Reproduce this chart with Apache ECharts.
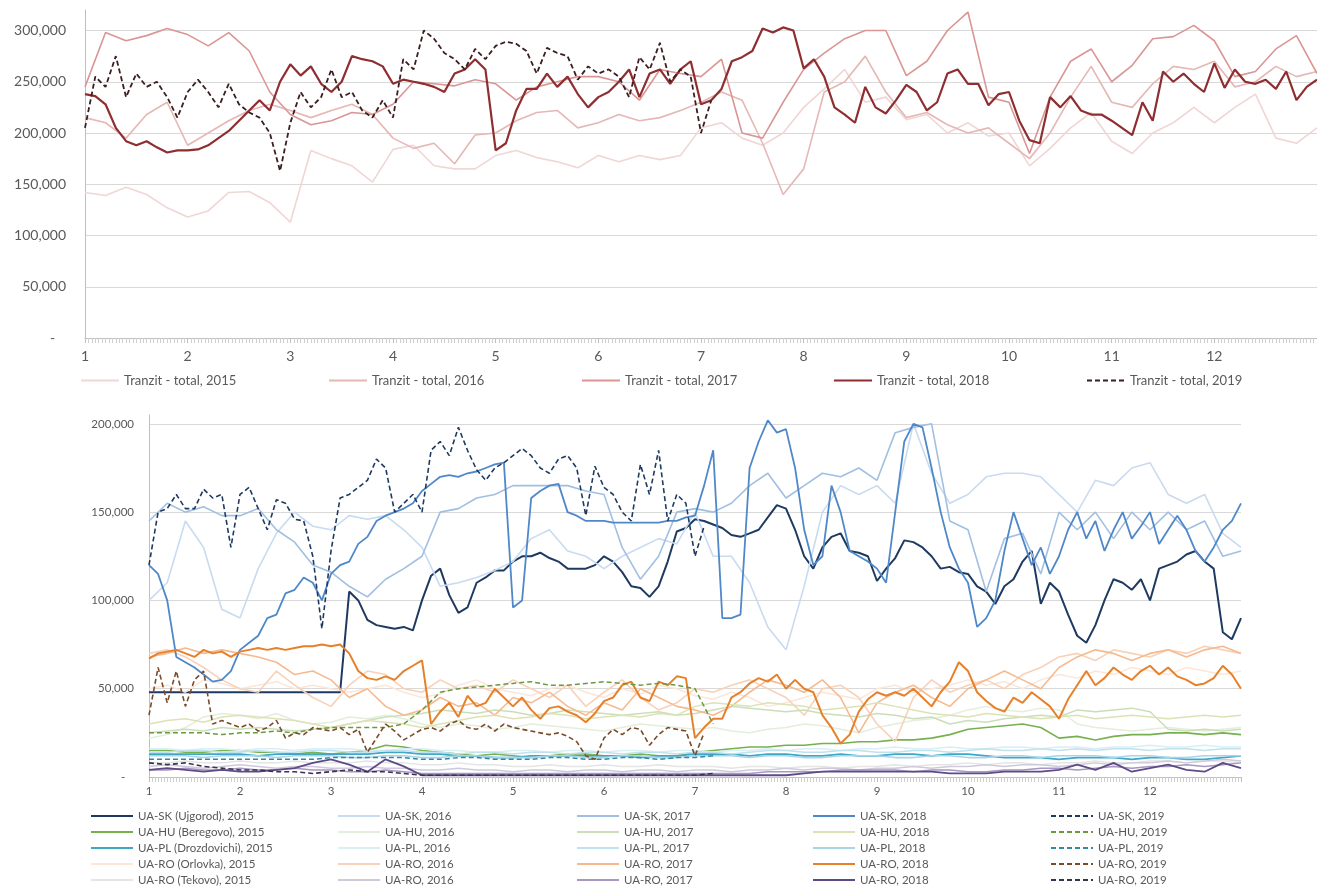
<!DOCTYPE html>
<html>
<head>
<meta charset="utf-8">
<title>Tranzit traffic by border crossing</title>
<script src="https://cdn.jsdelivr.net/npm/echarts/dist/echarts.min.js"></script>
<style>
  html, body { margin: 0; padding: 0; background: #ffffff; }
  #chart { width: 1317px; height: 893px; }
</style>
</head>
<body>
<div id="chart"></div>
<script>
// Month tick labels on both x axes
const MONTHS = [1, 2, 3, 4, 5, 6, 7, 8, 9, 10, 11, 12];
// Samples start at month 1; busy series are sampled every tenth of a month,
// the quieter ones every fifth
const X_START = 1;
const STEP_FINE = 0.1;
const STEP_COARSE = 0.2;

// ---- Upper panel: Tranzit - total (thousands) ----
const tranzit2015 = [142,139,147,140,127,118,124,142,143,132,113, 183,175,168,152,184,188,168,165,165,178, 183,176,172,166,178,172,178,174,178,205, 210,195,188,200,225,243,262,230,235,213, 218,200,210,197,200,168,185,205,220,192, 180,200,210,225,210,225,238,195,190,205];
const tranzit2016 = [215,210,195,218,230,188,200,212,222,228,222, 215,222,228,218,195,185,190,170,198,200, 212,220,222,205,210,218,212,215,222,230, 240,232,190,140,165,240,250,275,240,215, 220,208,200,205,190,175,200,235,265,230, 225,248,265,262,270,245,250,265,255,260];
const tranzit2017 = [245,298,290,295,302,296,285,298,280,240,218, 208,212,220,218,228,250,248,246,252,248, 232,245,250,255,255,250,232,262,258,255, 272,200,195,230,262,278,292,300,300,256, 270,300,318,235,230,180,235,270,282,250, 266,292,294,305,290,255,260,282,295,258];
const tranzit2018 = [
  238,236,228,205,192,188,192,186,181,183,
  183,184,188,195,202,212,222,232,222,250,
  267,256,265,248,240,250,275,272,270,265,
  248,252,250,248,245,240,258,262,272,262,
  183,190,222,243,243,258,245,255,238,225,
  235,240,250,262,235,258,262,248,262,270,
  228,232,243,270,274,280,302,298,303,300,
  263,272,255,225,218,210,245,225,219,232,
  247,240,222,230,258,262,248,248,227,238,
  240,212,193,190,235,225,236,222,218,218,
  212,205,198,230,212,260,250,258,248,240,
  268,244,262,250,248,252,243,260,232,245,
  252];
const tranzit2019 = [
  205,255,245,275,235,258,245,250,235,215,
  240,252,240,225,248,228,220,215,200,163,
  210,240,225,235,262,235,240,222,215,232,
  215,272,262,300,292,278,272,262,282,272,
  285,289,287,280,258,283,278,275,252,265,
  258,262,255,235,274,262,288,250,262,255,
  200,232];

// ---- Lower panel: border crossings (thousands) ----
const sk2015 = [
  48,48,48,48,48,48,48,48,48,48,
  48,48,48,48,48,48,48,48,48,48,
  48,48,105,100,89,86,85,84,85,83,
  100,114,118,103,93,96,110,113,117,117,
  122,125,125,127,124,122,118,118,118,120,
  125,122,116,108,107,102,108,122,139,141,
  146,145,143,141,137,136,138,140,147,154,
  152,140,125,118,130,136,138,128,127,125,
  111,118,124,134,133,130,125,118,119,116,
  115,108,105,98,108,112,122,128,98,110,
  105,92,80,76,86,100,112,110,106,112,
  100,118,120,122,126,128,122,118,82,78,
  90];
const sk2016 = [100,110,145,130,95,90,118,138,150,142,140, 148,146,148,140,130,108,110,113,117,122, 135,140,128,125,118,125,130,135,132,150, 125,125,110,85,72,108,150,165,160,165, 155,200,172,155,160,170,172,172,170,160, 150,168,165,175,178,160,155,160,138,130];
const sk2017 = [145,155,150,153,148,148,152,140,133,120,116, 108,102,112,118,125,150,152,158,160,165, 165,165,165,162,160,130,112,125,150,152, 150,155,165,172,158,165,172,170,175,168, 195,198,200,145,140,105,135,138,115,150, 140,150,135,150,140,150,140,145,125,128];
const sk2018 = [
  120,115,100,68,65,62,58,54,55,60,
  72,76,80,90,92,104,106,113,110,100,
  115,120,122,132,136,145,148,150,152,155,
  162,166,170,171,170,172,173,175,177,178,
  96,100,158,162,165,166,150,148,145,145,
  145,144,144,144,144,144,144,145,145,147,
  148,165,185,90,90,92,175,190,202,195,
  197,175,140,120,125,165,150,128,125,122,
  118,110,150,190,200,198,175,150,130,118,
  110,85,90,100,128,150,135,120,130,115,
  125,140,150,135,145,128,140,150,135,142,
  150,132,140,148,140,128,122,130,140,145,
  155];
const sk2019 = [
  120,150,152,160,152,152,163,158,160,130,
  160,164,152,140,157,155,146,145,125,84,
  128,158,160,164,168,180,175,150,155,160,
  150,185,190,182,198,185,174,168,175,178,
  182,186,182,175,172,180,182,175,148,176,
  164,160,150,145,177,160,185,145,160,155,
  125,142];

const hu2015 = [15,15,14,14,15,15,14,14,13,14,13, 14,15,18,17,15,14,13,12,13,12, 11,12,13,13,12,12,13,12,12,14, 15,16,17,17,18,18,19,19,20,20, 21,21,22,24,27,28,29,30,28,22, 23,21,23,24,24,25,25,24,25,24];
const hu2016 = [22,24,28,34,36,35,33,36,32,30,31, 34,33,35,33,30,28,30,29,27,28, 30,29,28,27,26,28,30,29,28,27, 28,26,25,27,28,30,29,27,25,28, 30,32,33,35,38,40,38,37,39,38, 30,28,27,26,27,28,27,26,27,28];
const hu2017 = [25,26,27,26,28,27,28,27,26,27,28, 30,32,34,35,36,38,37,36,38,37, 35,36,38,37,36,35,36,37,35,36, 38,40,39,38,37,38,36,35,34,36, 35,33,34,30,32,31,33,34,35,34, 38,37,38,39,37,27,26,27,26,27];
const hu2018 = [30,32,33,31,34,35,34,33,32,30,28, 30,32,31,30,28,30,32,34,35,33, 34,36,35,33,34,35,34,36,35,40, 42,41,40,42,41,40,38,39,40,42, 40,38,36,35,34,36,35,34,33,34, 35,33,34,35,34,33,34,35,34,35];
const hu2019 = [25,25,25,25,24,25,25,26,25,27,28, 28,28,28,30,38,48,50,51,52,53, 54,52,52,53,54,53,52,53,52,50, 30];

const pl2015 = [13,13,13,13,13,13,12,13,13,13,13, 13,13,14,14,13,13,12,12,11,11, 12,12,12,12,12,12,11,12,12,13, 13,13,12,13,13,12,12,13,12,12, 13,13,12,13,13,12,11,11,11,10, 11,11,11,10,11,11,10,10,11,12];
const pl2016 = [16,16,15,16,16,15,16,16,15,16,16, 16,15,15,16,16,15,15,14,14,15, 15,14,15,15,14,15,15,14,15,15, 14,15,15,16,15,16,16,15,16,16, 17,16,16,17,16,16,17,17,16,17, 17,16,17,17,18,17,17,18,17,17];
const pl2017 = [14,14,15,15,14,14,15,14,14,15,15, 14,14,15,15,14,14,13,14,14,13, 14,14,13,14,14,13,14,14,13,14, 14,13,14,15,15,14,14,15,15,14, 14,15,15,14,15,16,15,15,16,15, 16,15,16,16,15,16,16,15,16,16];
const pl2018 = [12,12,12,11,12,12,12,11,12,12,12, 11,11,12,12,11,11,12,12,11,11, 11,12,12,11,11,12,12,11,11,12, 12,12,11,12,12,11,11,12,12,12, 11,11,12,12,11,11,12,12,11,12, 12,12,11,12,12,11,11,12,12,12];
const pl2019 = [10,10,10,10,10,10,10,10,10,10,11, 11,11,11,11,10,10,11,11,10,10, 10,11,11,10,10,11,11,10,11,11, 12];

const orlovka2015 = [50,52,48,55,53,50,52,54,50,52,50, 48,50,52,48,45,47,52,55,50,48, 46,50,52,48,45,50,47,52,50,46, 44,48,45,40,42,45,48,46,44,50, 52,48,50,52,55,52,54,50,55,58, 56,60,58,62,60,58,62,60,58,60];
const orlovka2016 = [70,72,68,62,55,50,48,60,52,45,40, 52,60,58,50,48,55,50,52,48,55, 50,45,52,40,48,55,45,38,42,50, 48,52,55,50,45,35,50,52,45,30, 20,45,55,48,52,55,50,58,62,68, 70,66,72,70,68,72,70,74,72,70];
const orlovka2017 = [68,70,73,70,72,70,68,65,58,60,55, 45,50,40,35,38,45,40,42,35,45, 42,48,40,35,42,38,50,45,40,38, 35,40,48,55,52,48,55,45,25,42, 48,52,45,40,50,55,60,55,50,62, 68,72,70,66,70,72,68,72,74,70];
const orlovka2018 = [
  67,70,71,72,70,68,72,70,71,68,
  71,72,73,72,73,72,73,74,74,75,
  74,75,70,60,56,55,57,55,60,63,
  66,30,37,42,34,46,40,42,50,45,
  40,45,38,33,39,40,37,35,31,36,
  43,45,52,54,45,43,54,52,57,56,
  22,28,33,33,45,48,53,56,54,58,
  50,55,50,48,35,28,19,24,37,44,
  48,46,48,46,50,45,40,48,54,65,
  60,48,43,39,37,45,42,48,44,40,
  33,44,52,60,52,56,62,58,55,60,
  63,58,62,57,55,52,53,56,63,58,
  50];
const orlovka2019 = [
  35,62,42,60,40,55,60,30,32,30,
  28,30,26,28,32,22,25,24,28,27,
  26,28,24,27,14,22,30,26,21,24,
  27,28,26,30,32,28,27,30,26,30,
  28,27,26,25,24,25,23,20,12,10,
  22,27,24,28,27,18,24,28,27,26,
  12,25];

const tekovo2015 = [8,8,9,8,8,9,8,8,9,8,8, 8,9,8,8,7,7,8,7,7,6, 6,7,6,6,7,6,6,7,6,6, 6,5,6,6,5,6,6,5,6,6, 7,6,7,7,8,7,8,8,7,8, 8,9,8,8,9,9,8,9,9,8];
const tekovo2016 = [6,7,6,5,6,7,6,5,6,6,5, 5,6,5,5,4,4,5,4,4,3, 4,4,3,4,4,3,4,4,3,4, 4,3,4,4,5,4,5,5,4,5, 5,6,5,6,6,7,6,7,7,6, 7,8,7,8,8,9,8,9,10,9];
const tekovo2017 = [4,4,5,4,4,5,4,4,5,4,4, 3,3,4,3,2,2,2,2,2,2, 2,2,2,2,2,2,2,2,2,2, 2,2,2,3,3,3,3,4,4,4, 4,3,4,4,3,3,4,4,5,5, 4,5,6,5,6,6,7,6,7,8];
const tekovo2018 = [4,5,4,3,4,3,3,4,5,8,10, 7,3,10,6,1,1,1,1,1,1, 1,1,1,1,1,1,1,1,1,1, 1,1,1,1,1,2,3,3,3,3, 3,3,3,2,2,2,3,3,3,4, 7,4,8,3,5,7,4,3,8,5];
const tekovo2019 = [8,7,8,6,5,4,4,3,3,2,3, 4,3,3,2,1,1,1,1,1,1, 1,1,1,1,1,1,1,1,1,1, 2];

// Turn a sampled list (thousands) into [month, value] pairs for a value axis
function track(values, step) {
  return values.map((v, i) => [X_START + i * step, v * 1000]);
}

const FONT = 'Lato, "Open Sans", sans-serif';
const TEXT = '#595959';
const GRIDLINE = '#d9d9d9';
const AXIS = '#bfbfbf';

function thousands(v) {
  if (v === 0) return '-   ';
  return v.toLocaleString('en-US');
}

// ---- Series definitions ----
const topDefs = [
  { name: 'Tranzit - total, 2015', data: tranzit2015, color: '#f0d6d5', width: 1.6 },
  { name: 'Tranzit - total, 2016', data: tranzit2016, color: '#e5b7b5', width: 1.6 },
  { name: 'Tranzit - total, 2017', data: tranzit2017, color: '#d99694', width: 1.6 },
  { name: 'Tranzit - total, 2018', data: tranzit2018, color: '#8e2e30', width: 2.2, fine: true },
  { name: 'Tranzit - total, 2019', data: tranzit2019, color: '#3b1e1f', width: 1.8, dash: true, fine: true }
];

// Column per year, row per crossing (duplicate labels differ by a trailing space)
const bottomCols = [
  [
    { name: 'UA-SK (Ujgorod), 2015', data: sk2015, color: '#1f3a60', width: 2, fine: true },
    { name: 'UA-HU (Beregovo), 2015', data: hu2015, color: '#77b04f', width: 1.6 },
    { name: 'UA-PL (Drozdovichi), 2015', data: pl2015, color: '#3fa7c4', width: 1.8 },
    { name: 'UA-RO (Orlovka), 2015', data: orlovka2015, color: '#fbe6d8', width: 1.5 },
    { name: 'UA-RO (Tekovo), 2015', data: tekovo2015, color: '#e4e4e4', width: 1.5 }
  ],
  [
    { name: 'UA-SK, 2016', data: sk2016, color: '#c9dbf0', width: 1.6 },
    { name: 'UA-HU, 2016', data: hu2016, color: '#e3eedb', width: 1.5 },
    { name: 'UA-PL, 2016', data: pl2016, color: '#d9eef5', width: 1.5 },
    { name: 'UA-RO, 2016', data: orlovka2016, color: '#f8d2b8', width: 1.6 },
    { name: 'UA-RO, 2016 ', data: tekovo2016, color: '#cfc9dc', width: 1.5 }
  ],
  [
    { name: 'UA-SK, 2017', data: sk2017, color: '#a0bfe2', width: 1.6 },
    { name: 'UA-HU, 2017', data: hu2017, color: '#cadfb9', width: 1.5 },
    { name: 'UA-PL, 2017', data: pl2017, color: '#bfe2ee', width: 1.5 },
    { name: 'UA-RO, 2017', data: orlovka2017, color: '#f5ba90', width: 1.6 },
    { name: 'UA-RO, 2017 ', data: tekovo2017, color: '#a797c2', width: 1.5 }
  ],
  [
    { name: 'UA-SK, 2018', data: sk2018, color: '#4f88c8', width: 1.8, fine: true },
    { name: 'UA-HU, 2018', data: hu2018, color: '#dde2b6', width: 1.5 },
    { name: 'UA-PL, 2018', data: pl2018, color: '#a9d4ea', width: 1.6 },
    { name: 'UA-RO, 2018', data: orlovka2018, color: '#e6802a', width: 2, fine: true },
    { name: 'UA-RO, 2018 ', data: tekovo2018, color: '#5f4a87', width: 1.8 }
  ],
  [
    { name: 'UA-SK, 2019', data: sk2019, color: '#1f3a60', width: 1.6, dash: true, fine: true },
    { name: 'UA-HU, 2019', data: hu2019, color: '#6b9a3e', width: 1.5, dash: true },
    { name: 'UA-PL, 2019', data: pl2019, color: '#2f8aa5', width: 1.5, dash: true },
    { name: 'UA-RO, 2019', data: orlovka2019, color: '#7a4b2b', width: 1.6, dash: true, fine: true },
    { name: 'UA-RO, 2019 ', data: tekovo2019, color: '#3a3150', width: 1.6, dash: true }
  ]
];

function lineSeries(def, axisIndex) {
  return {
    type: 'line',
    name: def.name,
    xAxisIndex: axisIndex,
    yAxisIndex: axisIndex,
    data: track(def.data, def.fine ? STEP_FINE : STEP_COARSE),
    symbol: 'none',
    silent: true,
    animation: false,
    lineStyle: { color: def.color, width: def.width, type: def.dash ? [5, 3] : 'solid' },
    itemStyle: { color: def.color }
  };
}

const series = [];
topDefs.forEach(d => series.push(lineSeries(d, 0)));
bottomCols.forEach(col => col.forEach(d => series.push(lineSeries(d, 1))));

// ---- Legends ----
const legendBase = {
  orient: 'horizontal',
  selectedMode: false,
  itemHeight: 10,
  itemStyle: { opacity: 0 },
  formatter: name => name.trim(),
  padding: 0
};

const topLegendLeft = [80, 328, 581, 833, 1086];
const legends = topDefs.map((d, i) => Object.assign({}, legendBase, {
  data: [d.name],
  left: topLegendLeft[i],
  top: 374,
  itemWidth: 38,
  textStyle: { color: TEXT, fontSize: 13, fontFamily: FONT }
}));

const bottomLegendLeft = [90, 337, 576, 812, 1050];
bottomCols.forEach((col, i) => {
  legends.push(Object.assign({}, legendBase, {
    orient: 'vertical',
    data: col.map(d => d.name),
    left: bottomLegendLeft[i],
    top: 809,
    itemGap: 2,
    itemWidth: 42,
    textStyle: { color: TEXT, fontSize: 11.5, fontFamily: FONT, lineHeight: 14 }
  }));
});

function xAxis(gridIndex, fontSize, margin) {
  return {
    gridIndex: gridIndex,
    type: 'value',
    min: X_START,
    max: X_START + MONTHS.length,
    interval: 1,
    axisLine: { show: true, onZero: false, lineStyle: { color: AXIS, width: 1 } },
    axisTick: { show: true, length: 5, lineStyle: { color: AXIS } },
    minorTick: { show: true, splitNumber: 30, length: 5, lineStyle: { color: '#cfcfcf' } },
    splitLine: { show: false },
    axisLabel: {
      color: TEXT, fontSize: fontSize, fontFamily: FONT, margin: margin,
      showMaxLabel: false,
      formatter: v => (MONTHS.indexOf(v) >= 0 ? String(v) : '')
    }
  };
}

function yAxis(gridIndex, max, fontSize, margin) {
  return {
    gridIndex: gridIndex,
    type: 'value',
    min: 0,
    max: max,
    interval: 50000,
    axisLine: { show: true, lineStyle: { color: AXIS, width: 1 } },
    axisTick: { show: false },
    splitLine: { show: true, showMaxLine: false, lineStyle: { color: GRIDLINE, width: 1.2 } },
    axisLabel: {
      color: TEXT, fontSize: fontSize, fontFamily: FONT, margin: margin,
      showMaxLabel: false,
      formatter: v => (v % 50000 === 0 ? thousands(v) : '')
    }
  };
}

const option = {
  backgroundColor: '#ffffff',
  animation: false,
  grid: [
    { left: 85, right: 0, top: 10, bottom: 555 },
    { left: 149, right: 76, top: 415, bottom: 116 }
  ],
  xAxis: [xAxis(0, 14, 11), xAxis(1, 11.5, 8)],
  yAxis: [yAxis(0, 320000, 14, 19), yAxis(1, 205000, 11.5, 15)],
  legend: legends,
  series: series
};

const chart = echarts.init(document.getElementById('chart'), null, { renderer: 'canvas' });
chart.setOption(option);
</script>
</body>
</html>
